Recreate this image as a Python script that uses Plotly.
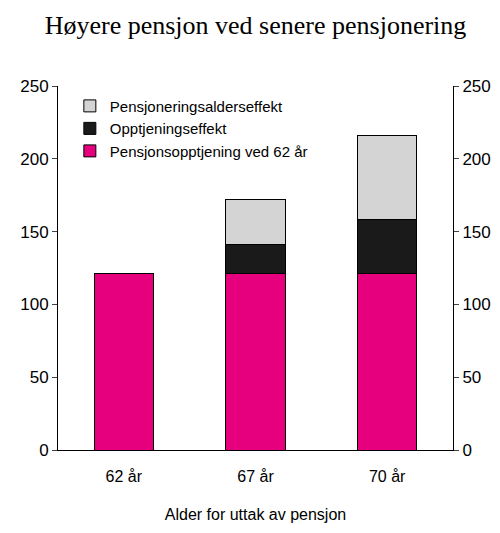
import plotly.graph_objects as go

categories = ["62 år", "67 år", "70 år"]
base_62 = [121, 121, 121]
opptjening = [0, 20, 37]
alderseffekt = [0, 31, 58]

fig = go.Figure()
fig.add_trace(go.Bar(x=categories, y=base_62, name="Pensjonsopptjening ved 62 år",
                     marker=dict(color="#e6007e", line=dict(color="black", width=1))))
fig.add_trace(go.Bar(x=categories, y=opptjening, name="Opptjeningseffekt",
                     marker=dict(color="#1a1a1a", line=dict(color="black", width=1))))
fig.add_trace(go.Bar(x=categories, y=alderseffekt, name="Pensjoneringsalderseffekt",
                     marker=dict(color="#d4d4d4", line=dict(color="black", width=1))))
# dummy trace so the right-hand axis is drawn
fig.add_trace(go.Scatter(x=categories, y=[None, None, None], yaxis="y2",
                         showlegend=False, hoverinfo="skip"))

yax = dict(range=[0, 250], dtick=50, showgrid=False, zeroline=False,
           showline=True, linecolor="black", ticks="outside", ticklen=5,
           tickfont=dict(size=17, color="black"))
fig.update_layout(
    width=495, height=533,
    barmode="stack", bargap=0.55,
    plot_bgcolor="white", paper_bgcolor="white",
    font=dict(family="Liberation Sans", color="black"),
    title=dict(text="Høyere pensjon ved senere pensjonering", x=0.5, y=0.985,
               xanchor="center", yanchor="top", font=dict(family="Liberation Serif", size=26)),
    margin=dict(l=45, r=46, t=78, b=91),
    xaxis=dict(showline=True, linecolor="black", ticks="outside", ticklen=12,
               tickcolor="rgba(0,0,0,0)", tickfont=dict(size=16),
               title=dict(text="Alder for uttak av pensjon", font=dict(size=16), standoff=24)),
    yaxis=yax,
    yaxis2=dict(yax, overlaying="y", side="right", matches="y"),
    legend=dict(x=0.03, y=0.99, xanchor="left", yanchor="top", traceorder="reversed",
                font=dict(size=15), bgcolor="rgba(0,0,0,0)", tracegroupgap=10),
    showlegend=True,
)

fig.write_html("out.html")
